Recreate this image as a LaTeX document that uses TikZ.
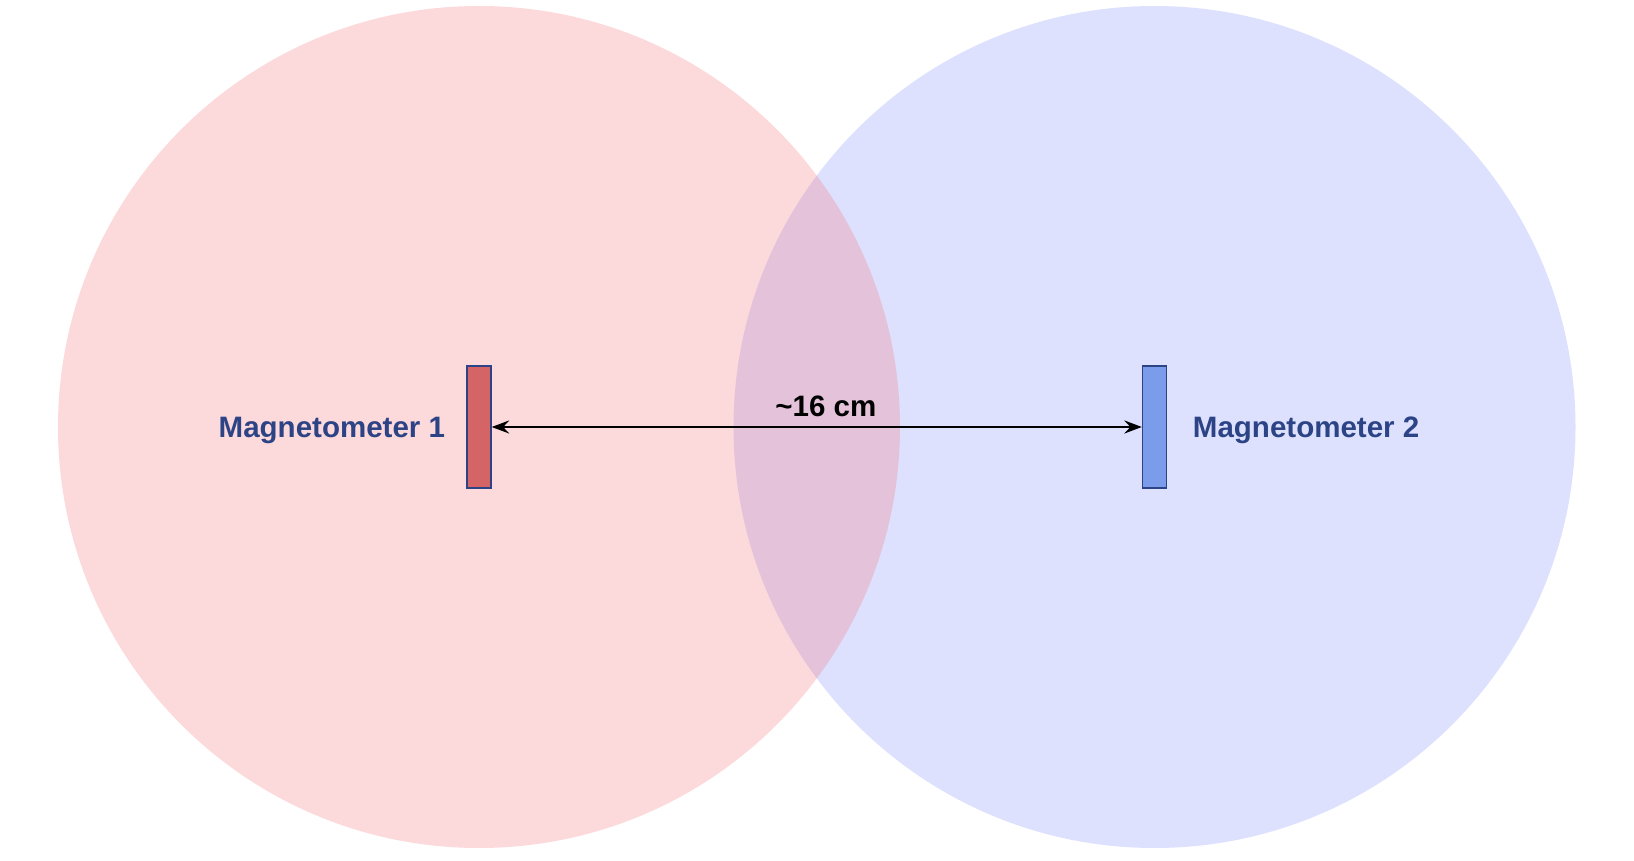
\documentclass[tikz,border=0pt]{standalone}
\usepackage{fontspec}
\setmainfont{Liberation Sans}
\usetikzlibrary{positioning, arrows.meta}
\definecolor{fieldRed}{RGB}{245,105,110}
\definecolor{fieldBlue}{RGB}{119,135,251}
\definecolor{sensorRed}{RGB}{213,100,103}
\definecolor{sensorBlue}{RGB}{122,156,235}
\definecolor{labelBlue}{RGB}{44,68,134}

\begin{document}
\begin{tikzpicture}[
    >={Stealth[length=10pt, width=7.5pt, inset=3.5pt]},
    field/.style={fill opacity=0.25, draw=none},
    sensor/.style={draw=labelBlue, line width=0.8pt, minimum width=0.48cm, minimum height=2.44cm, inner sep=0pt},
    maglabel/.style={text=labelBlue, font=\fontsize{16.8}{20}\selectfont\bfseries, yshift=-0.06cm}
]
    \useasboundingbox (0,0) rectangle (32.68,17.2);

    % fields of the two sensors
    \fill[field, fill=fieldBlue] (23.09,8.66) circle (8.42);
    \fill[field, fill=fieldRed] (9.58,8.66) circle (8.42);

    \node[sensor, fill=sensorRed] (M1) at (9.58,8.66) {};
    \node[sensor, fill=sensorBlue] (M2) at (23.09,8.66) {};

    \node[maglabel, left=0.30cm of M1] (L1) {Magnetometer 1};
    \node[maglabel, right=0.39cm of M2] (L2) {Magnetometer 2};

    % distance between the sensors
    \draw[<->, line width=0.75pt] (M1.east) -- (M2.west)
        node[pos=0.514, above=0.08cm, font=\fontsize{16.8}{20}\selectfont\bfseries] (D) {\textasciitilde16 cm};
\end{tikzpicture}
\end{document}
